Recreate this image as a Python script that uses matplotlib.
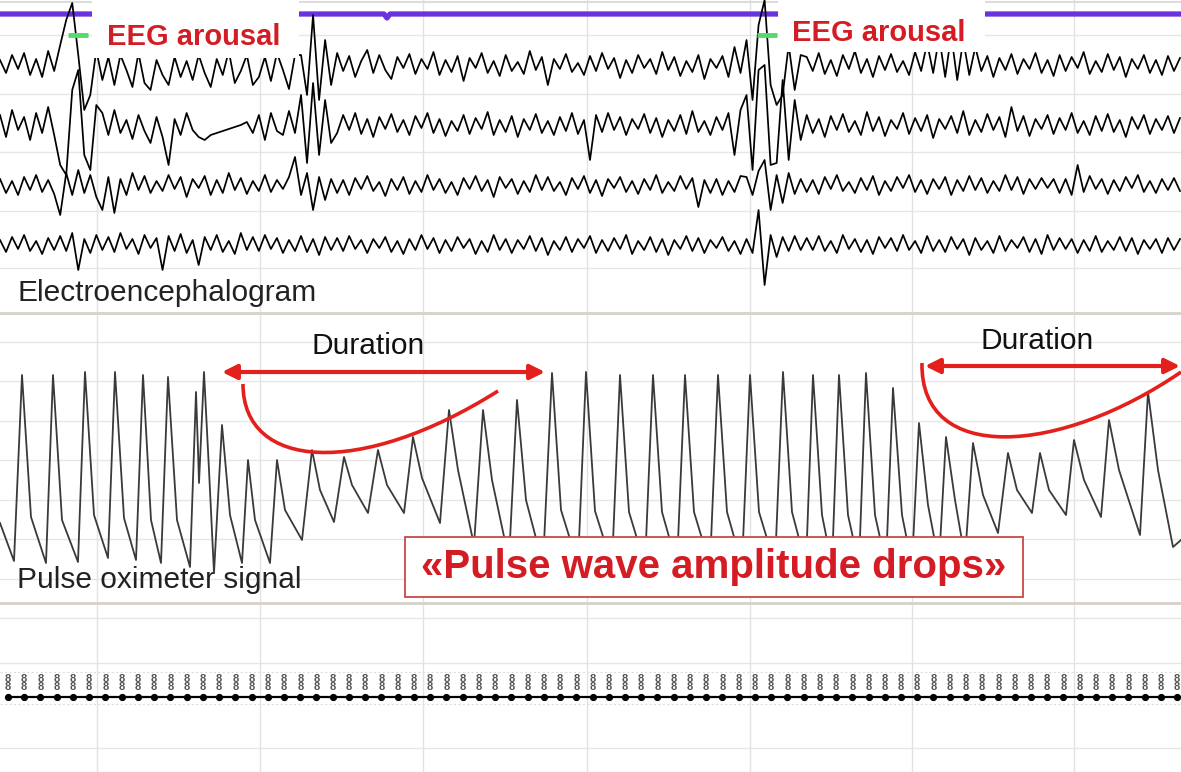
import numpy as np
import matplotlib
matplotlib.use("Agg")
import matplotlib.pyplot as plt
from matplotlib.patches import Rectangle, PathPatch
from matplotlib.path import Path

plt.rcParams['font.family'] = ['Liberation Sans', 'DejaVu Sans']

# ---- EEG channels (amplitude, px-ish units, positive = up), one sample every ~6 px
eeg1 = [5,-8,10,-4,12,-10,6,-12,14,-6,
        20,45,62,10,-45,-30,15,
        -15,8,-20,10,-5,-22,12,-18,-25,5,-10,-20,8,-12,4,-15,10,-8,-22,6,-10,14,-18,-6,10,-20,-12,8,-16,12,-5,-24,10,
        10,-30,50,-35,25,-20,
        12,-6,9,-12,4,15,-8,10,-5,-14,8,-3,11,-9,6,-4,13,-10,5,-7,9,-16,7,-3,12,-8,4,-11,10,-6,
        3,-9,14,-5,8,-20,6,-4,11,-7,2,-10,9,-6,12,-4,7,-13,5,-8,10,-3,6,-9,13,-5,8,-11,4,-7,
        10,-14,6,-3,9,-12,18,-8,
        25,-35,40,65,-20,-40,-30,20,-25,10,
        8,-6,12,-9,5,-11,10,-4,14,-8,6,-12,9,-5,11,-7,4,-10,13,-6,22,-8,28,-12,30,-15,25,-10,18,-6,
        9,-12,7,-5,11,-9,6,-4,12,-8,5,-11,10,-6,8,-3,13,-9,4,-7,11,-5,8,-12,6,-4,10,-8,5,-10,9,-6,7]
eeg2 = [10,-12,15,-5,8,-15,12,-8,18,-10,
        -40,-50,35,55,-30,-45,20,
        12,-10,15,-8,5,-14,10,-6,-18,8,-12,-40,6,-10,12,-5,-12,-15,-10,-8,-6,-4,-2,0,3,-8,10,-15,12,-6,-10,14,-8,
        30,-38,42,-30,25,-18,
        -8,10,-5,12,-9,6,-12,8,-4,11,-7,5,-10,9,-3,12,-8,6,-11,4,-6,10,-9,7,-4,13,-10,5,-7,9,
        -12,6,-5,11,-8,4,-10,8,-6,12,-9,5,-35,10,-7,12,-5,8,-10,6,-4,11,-8,7,-12,5,-6,10,-9,14,
        -7,4,-10,8,-5,12,-30,15,
        30,-45,55,60,-40,-38,45,-35,25,-15,
        10,-8,6,-12,9,-5,11,-7,4,-10,13,-6,8,-11,5,-4,12,-9,7,-6,10,-13,6,-4,9,-8,14,-10,5,-7,
        11,-5,8,-12,18,-6,9,-11,6,-4,10,-9,7,-5,12,-8,4,-10,9,-6,11,-7,5,-12,8,-4,10,-9,6,-5,9,-8,7]
eeg3 = [6,-8,4,-10,8,-5,10,-7,5,-9,
        -30,12,-10,15,-8,10,-12,
        -25,8,-28,6,-10,12,-5,9,-8,4,-6,10,-4,8,-12,6,-3,9,-10,5,-8,12,-5,7,-9,4,-6,10,-7,5,-4,8,28,
        -10,12,-25,8,-15,6,
        -8,5,-10,7,-4,9,-6,3,-11,6,-5,8,-9,4,-7,10,-5,6,-8,3,-10,7,-4,9,-6,5,-12,8,-3,6,
        -9,4,-7,10,-5,8,-6,3,-10,7,-4,9,-8,5,-11,6,-3,8,-7,4,-9,6,-5,10,-8,3,-6,9,-4,7,
        -22,5,-8,6,-10,4,-7,9,
        8,-10,14,25,-25,10,-18,12,-9,6,
        -7,5,-9,8,-4,10,-6,3,-8,7,-5,9,-10,4,-6,8,-3,10,-7,5,-9,6,-4,8,-10,5,-6,9,-5,7,
        -8,4,-6,10,-5,8,-9,6,-4,7,-3,6,-8,6,-10,20,-7,9,-4,6,-9,5,-6,8,-3,10,-7,4,-8,6,-5,7,-6]
eeg4 = [5,-7,8,-4,10,-6,4,-9,7,-5,
        9,-6,12,-25,6,-8,10,
        -5,8,-7,12,-4,6,-9,10,-3,7,-25,9,-6,11,-8,5,-20,8,-5,10,-7,4,-9,12,-5,8,-6,10,-4,7,-8,5,-6,
        9,-7,6,-10,8,-5,
        7,-6,9,-4,5,-8,6,-3,8,-7,4,-9,6,-5,10,-4,7,-8,5,-6,8,-3,6,-9,4,-7,10,-5,6,-8,
        5,-4,9,-6,7,-10,4,-5,8,-7,6,-3,9,-8,5,-6,7,-4,10,-9,4,-5,8,-7,6,-10,5,-4,9,-6,
        7,-8,5,-3,8,-6,4,-9,
        6,-8,35,-40,10,-12,8,-6,9,-5,
        7,-5,9,-6,4,-8,10,-4,6,-7,5,-9,8,-3,7,-6,10,-5,4,-8,9,-6,5,-7,8,-4,6,-10,7,-5,
        4,-8,9,-6,5,-3,8,-7,6,-9,10,-5,7,-4,6,-8,5,-6,9,-7,4,-5,8,-6,7,-9,5,-4,6,-8,7,-5,6]
eeg_channels = [eeg1, eeg2, eeg3, eeg4]

# arousal marker channel (purple) and arousal onsets (green)
marker_x = [0, 92, np.nan, 299, 384, 387, 390, 778, np.nan, 985, 1181]
marker_lvl = [0, 0, np.nan, 0, 0, -4, 0, 0, np.nan, 0, 0]
arousal_on = [(68, 88), (757, 777)]

# ---- pulse oximeter beats: peak, dicrotic notch, trough (level above panel floor)
lead_x, lead_lvl = [0, 14], [80, 42]
peak_x = [22, 53, 85, 115, 143, 168, 196, 204, 222, 248, 277, 312, 344, 378, 413, 449, 483, 517, 552,
          586, 620, 653, 685, 718, 750, 783, 813, 839, 866, 893, 919, 946, 973, 1008, 1040, 1074, 1109, 1148]
peak_lvl = [228, 228, 231, 231, 228, 226, 211, 231, 178, 143, 143, 153, 146, 153, 166, 193, 193, 203, 230,
            231, 228, 228, 228, 228, 228, 231, 228, 228, 230, 215, 180, 166, 160, 150, 150, 163, 183, 211]
notch_x = [31, 62, 94, 124, 151, 177, 198, 209, 230, 255, 285, 320, 352, 387, 422, 458, 492, 526, 561,
           595, 629, 662, 694, 727, 759, 792, 822, 848, 875, 902, 928, 955, 983, 1017, 1049, 1084, 1119, 1158]
notch_lvl = [86, 83, 88, 85, 83, 83, 153, 133, 88, 83, 93, 113, 118, 118, 125, 133, 123, 103, 93,
             92, 91, 91, 91, 91, 91, 91, 88, 88, 88, 88, 98, 103, 108, 113, 113, 123, 133, 133]
trough_x = [46, 78, 108, 136, 161, 190, 199, 214, 242, 270, 302, 334, 368, 404, 440, 474, 509, 543, 578,
            612, 645, 677, 710, 742, 775, 806, 832, 859, 886, 912, 939, 965, 998, 1032, 1066, 1101, 1140, 1173]
trough_lvl = [40, 41, 45, 43, 40, 36, 120, 30, 40, 40, 63, 81, 90, 90, 80, 58, 43, 38, 38,
              38, 38, 38, 38, 38, 38, 38, 38, 38, 38, 38, 40, 45, 70, 90, 88, 86, 68, 56]
tail_x, tail_lvl = [1181], [63]

# ---- SpO2 sample row
spo2_n = 73
spo2_text = "8\n8"

# ---- layout (pixel space of the 1181x772 picture)
W, H = 1181, 772
eeg_base = [65, 125, 185, 245]
pulse_floor = 603
vgrid = [97, 260, 423, 587, 750, 912, 1074]
eeg_hgrid = [35, 94, 152, 211, 268]
pulse_hgrid = [342, 381, 421, 460, 500, 539, 579]
bottom_hgrid = [618, 663, 748]
red = '#d41c24'
arrow_red = '#e3201b'

fig = plt.figure(figsize=(W / 100, H / 100), dpi=100)
ax = fig.add_axes([0, 0, 1, 1])
ax.set_xlim(0, W)
ax.set_ylim(H, 0)
ax.axis('off')

# grid
for x in vgrid:
    ax.axvline(x, color='#e2e2e2', lw=1, zorder=0)
for y in eeg_hgrid + pulse_hgrid + bottom_hgrid:
    ax.axhline(y, color='#e6e6e6', lw=1, zorder=0)
ax.axhline(2, color='#dcdcdc', lw=1.5, zorder=0)
for y in [313, 603]:
    ax.axhline(y, color='#d6d2c8', lw=2, zorder=0)
for y in [672, 704]:
    ax.axhline(y, color='#dddddd', lw=0.8, ls=(0, (2, 2)), zorder=0)

# EEG
for base, ch in zip(eeg_base, eeg_channels):
    xs = np.linspace(0, 1180, len(ch))
    ax.plot(xs, base - np.array(ch), color='black', lw=1.25, zorder=2)

ax.plot(marker_x, 14 - np.array(marker_lvl), color='#6a33dd', lw=3.8, zorder=1.5,
        solid_capstyle='butt')
for x0, x1 in arousal_on:
    ax.plot([x0, x1], [35, 35], color='#4fdc6a', lw=3.5, zorder=3, solid_capstyle='butt')

# white label boxes over the EEG
ax.add_patch(Rectangle((92, 0), 207, 58, fc='white', ec='none', zorder=3))
ax.add_patch(Rectangle((778, 0), 207, 52, fc='white', ec='none', zorder=3))
ax.text(107, 37, "EEG arousal", color=red, fontsize=21, fontweight='bold', va='center', zorder=4)
ax.text(792, 33, "EEG arousal", color=red, fontsize=21, fontweight='bold', va='center', zorder=4)
ax.text(17, 293, "Electroencephalogram", color='#222222', fontsize=21.5, va='center', zorder=4)

# pulse signal
px, pl = list(lead_x), list(lead_lvl)
for i in range(len(peak_x)):
    px += [peak_x[i], notch_x[i], trough_x[i]]
    pl += [peak_lvl[i], notch_lvl[i], trough_lvl[i]]
px += tail_x
pl += tail_lvl
ax.plot(px, pulse_floor - np.array(pl), color='#3a3a3a', lw=1.3, zorder=2)

ax.text(17, 580, "Pulse oximeter signal", color='#222222', fontsize=21.5, va='center', zorder=1)
ax.text(368, 346, "Duration", color='#111111', fontsize=21.5, ha='center', va='center', zorder=4)
ax.text(1037, 341, "Duration", color='#111111', fontsize=21.5, ha='center', va='center', zorder=4)

# duration arrows and envelope curves
for xa, xb, y in [(222, 545, 372), (925, 1180, 366)]:
    ax.annotate("", xy=(xb, y), xytext=(xa, y),
                arrowprops=dict(arrowstyle='<|-|>', color=arrow_red, lw=3,
                                mutation_scale=22, shrinkA=0, shrinkB=0), zorder=5)
curves = [[(243, 384), (243, 470), (360, 478), (498, 391)],
          [(922, 363), (920, 465), (1060, 455), (1181, 372)]]
for c in curves:
    path = Path(c, [Path.MOVETO, Path.CURVE4, Path.CURVE4, Path.CURVE4])
    ax.add_patch(PathPatch(path, fc='none', ec=arrow_red, lw=2.6, zorder=5))

ax.add_patch(Rectangle((405, 537), 618, 60, fc='white', ec='#c94848', lw=1.3, zorder=4))
ax.text(714, 567, "«Pulse wave amplitude drops»", color=red, fontsize=29,
        fontweight='bold', ha='center', va='center', zorder=5)

# SpO2 row
sx = np.linspace(8, 1177, spo2_n)
ax.plot(sx, np.full(spo2_n, 697), color='black', lw=1.6, marker='o', ms=4.2, zorder=2)
for x in sx:
    ax.text(x, 683, spo2_text, color='#555555', fontsize=8, fontweight='bold', ha='center',
            va='center', linespacing=0.72, zorder=2)

fig.savefig("out.png", dpi=100, facecolor='white')
